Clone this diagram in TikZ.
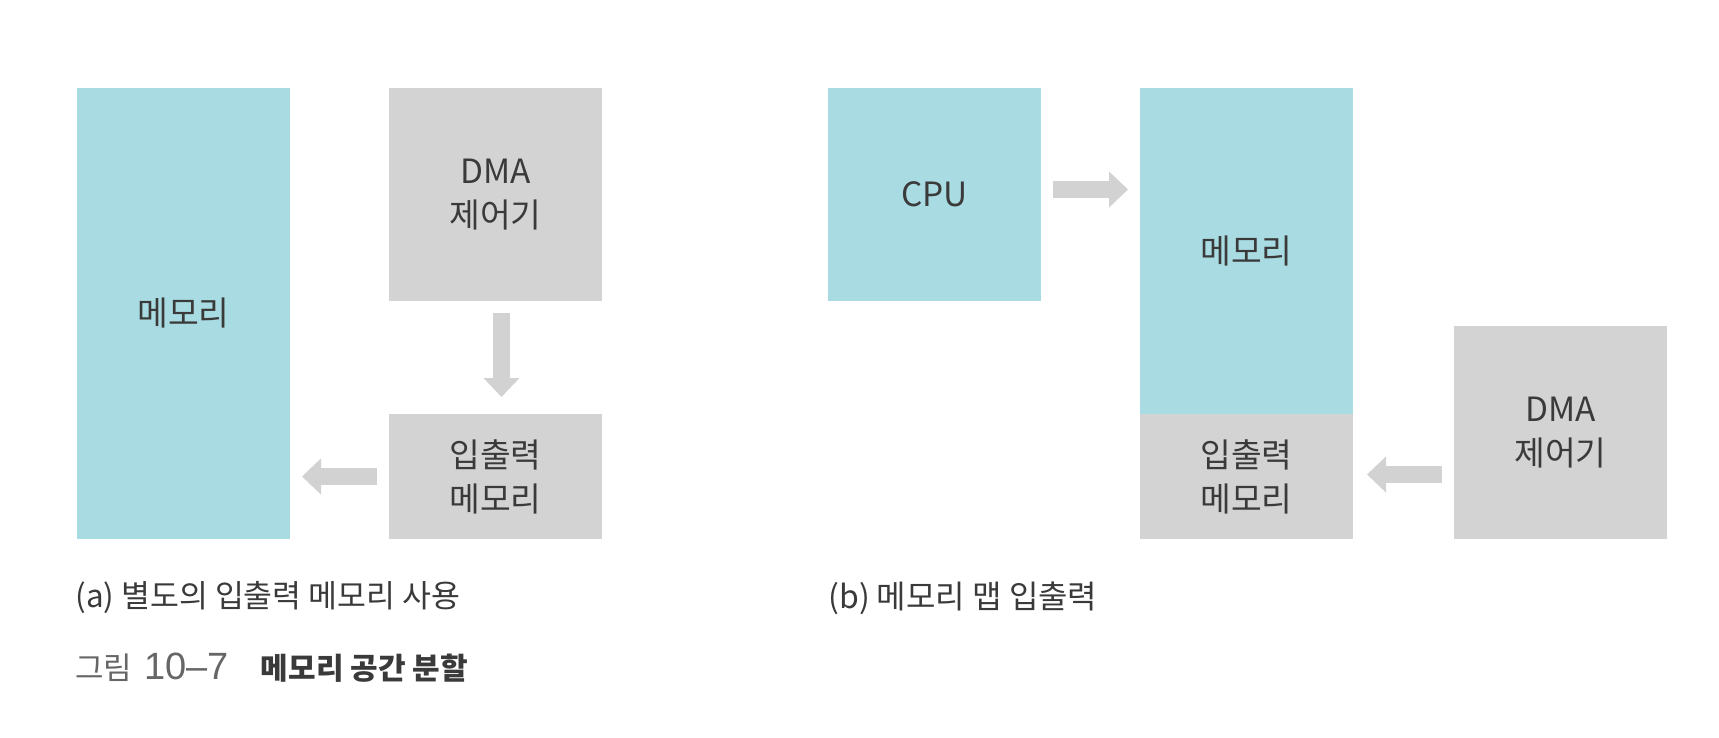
\documentclass[tikz,border=0pt]{standalone}
\usepackage{fontspec}
\setmainfont{Noto Sans CJK KR}
\newfontfamily\digitfont{Liberation Sans}
\usetikzlibrary{arrows.meta}
\definecolor{teal1}{HTML}{A9DBE2}
\definecolor{gray1}{HTML}{D3D3D3}
\definecolor{arr}{HTML}{D2D2D2}
\definecolor{txt}{HTML}{3A3A3A}
\definecolor{cap}{HTML}{666666}
\begin{document}
\begin{tikzpicture}[x=0.5pt,y=-0.5pt,
  box/.style={draw=none,inner sep=0pt,outer sep=0pt,align=center,text=txt,
     font=\fontsize{16.7}{22}\selectfont},
  tealbox/.style={box,fill=teal1},
  graybox/.style={box,fill=gray1},
  bigarrow/.style={draw=arr,line width=8.5pt,-{Triangle[width=17.5pt,length=9.5pt]}},
  caption/.style={anchor=west,inner sep=0pt,text=txt,font=\fontsize{15.7}{18}\selectfont}]
\useasboundingbox (0,0) rectangle (1719,738);
% (a)
\node[tealbox,minimum width=106.5pt,minimum height=225.5pt] (mem) at (183.5,313.5) {메모리};
\node[graybox,minimum width=106.5pt,minimum height=106.5pt] (dma) at (495.5,194.5) {DMA\\제어기};
\node[graybox,minimum width=106.5pt,minimum height=62.5pt] (io) at (495.5,476.5) {입출력\\메모리};
\draw[bigarrow,shorten <=6pt,shorten >=8.5pt] ([xshift=3pt]dma.south) -- ([xshift=3pt]io.north);
\draw[bigarrow,shorten <=6pt,shorten >=6pt] (io.west) -- (io.west -| mem.east);
\node[caption] (capa) at (75,598) {(a) 별도의 입출력 메모리 사용};
% (b)
\node[tealbox,minimum width=106.5pt,minimum height=106.5pt] (cpu) at (934.5,194.5) {CPU};
\node[tealbox,minimum width=106.5pt,minimum height=163pt] (mem2) at (1246.5,251) {메모리};
\node[graybox,minimum width=106.5pt,minimum height=62.5pt] (io2) at (1246.5,476.5) {입출력\\메모리};
\node[graybox,minimum width=106.5pt,minimum height=106.5pt] (dma2) at (1560.5,432.5) {DMA\\제어기};
\draw[bigarrow,shorten <=6pt,shorten >=6pt] ([yshift=2.5pt]cpu.east) -- ([yshift=2.5pt]cpu.east -| mem2.west);
\draw[bigarrow,shorten <=6pt,shorten >=7pt] ([yshift=1pt]io2.east -| dma2.west) -- ([yshift=1pt]io2.east);
\node[caption,font=\fontsize{16}{18}\selectfont] (capb) at (828,598) {(b) 메모리 맵 입출력};
% figure caption
\node[caption,text=cap,font=\fontsize{15.5}{18}\selectfont] (fig) at (75,668) {그림\hspace{6pt}{\digitfont\fontsize{19}{20}\selectfont 10–7}\hspace{16pt}\textcolor{txt}{\fontsize{15}{18}\selectfont\bfseries 메모리 공간 분할}};
\end{tikzpicture}
\end{document}
